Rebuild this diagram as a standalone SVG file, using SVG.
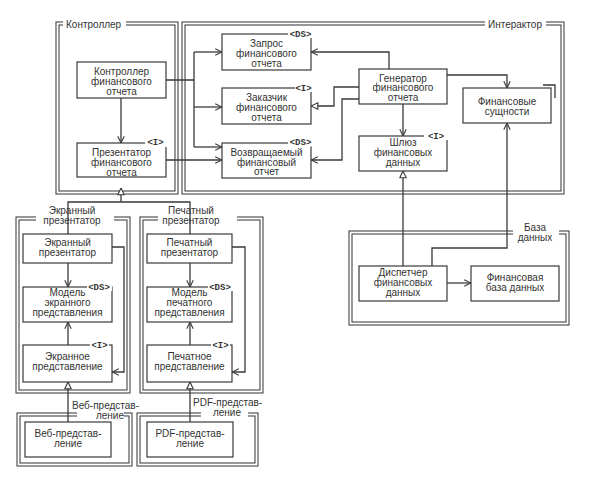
<svg xmlns="http://www.w3.org/2000/svg" width="596" height="480" viewBox="0 0 596 480">
<defs>
<style>
.fr{fill:none;stroke:#444;stroke-width:1.1}
.bx{fill:#fff;stroke:#3a3a3a;stroke-width:1.2}
.t{font-family:"Liberation Sans",Arial,sans-serif;font-size:10px;fill:#333;text-anchor:middle}
.tl{font-family:"Liberation Sans",Arial,sans-serif;font-size:10px;fill:#333}
.st{font-family:"Liberation Mono","DejaVu Sans Mono",monospace;font-size:9px;font-weight:bold;fill:#333;text-anchor:middle}
.w{fill:#fff;stroke:none}
.c{fill:none;stroke:#3a3a3a;stroke-width:1.3}
.ca{fill:none;stroke:#3a3a3a;stroke-width:1.3;marker-end:url(#open)}
.ct{fill:none;stroke:#3a3a3a;stroke-width:1.3;marker-end:url(#tri)}
</style>
<marker id="open" viewBox="0 0 10 10" refX="9.5" refY="5" markerWidth="8" markerHeight="8" markerUnits="userSpaceOnUse" orient="auto">
<path d="M1,1 L9.5,5 L1,9" fill="none" stroke="#3a3a3a" stroke-width="1.4"/>
</marker>
<marker id="tri" viewBox="0 0 10 10" refX="9.5" refY="5" markerWidth="8" markerHeight="8" markerUnits="userSpaceOnUse" orient="auto">
<path d="M1,1 L9.5,5 L1,9 Z" fill="#fff" stroke="#3a3a3a" stroke-width="1.4"/>
</marker>
</defs>
<rect width="596" height="480" fill="#fff"/>

<!-- Frames -->
<g id="frame-controller">
<rect class="fr" x="56" y="22" width="122" height="172"/>
<rect class="fr" x="59" y="25" width="116" height="166"/>
<rect class="w" x="63" y="18" width="63" height="11"/>
<text class="tl" x="66" y="27.5">Контроллер</text>
</g>
<g id="frame-interactor">
<rect class="fr" x="182" y="22" width="382" height="172"/>
<rect class="fr" x="185" y="25" width="376" height="166"/>
<rect class="w" x="485" y="18" width="61" height="11"/>
<text class="tl" x="488" y="28">Интерактор</text>
</g>
<g id="frame-database">
<rect class="fr" x="349" y="231" width="220" height="94"/>
<rect class="fr" x="352" y="234" width="214" height="88"/>
<rect class="w" x="513" y="220" width="46" height="20"/>
<text class="t" x="535" y="230.5">База</text>
<text class="t" x="535" y="241">данных</text>
</g>
<g id="frame-screen">
<rect class="fr" x="16" y="217" width="114" height="176"/>
<rect class="fr" x="19" y="220" width="108" height="170"/>
<rect class="w" x="36" y="204" width="78" height="21"/>
<text class="t" x="72" y="213.5">Экранный</text>
<text class="t" x="72" y="224">презентатор</text>
</g>
<g id="frame-print">
<rect class="fr" x="140" y="217" width="123" height="176"/>
<rect class="fr" x="143" y="220" width="117" height="170"/>
<rect class="w" x="158" y="204" width="79" height="21"/>
<text class="t" x="191" y="213.5">Печатный</text>
<text class="t" x="191" y="224">презентатор</text>
</g>
<g id="frame-web">
<rect class="fr" x="17" y="413" width="115" height="53"/>
<rect class="fr" x="20" y="416" width="109" height="47"/>
<rect class="w" x="77" y="409" width="47" height="12"/>
<text class="tl" x="72" y="408.5">Веб-представ-</text>
<text class="t" x="110" y="419">ление</text>
</g>
<g id="frame-pdf">
<rect class="fr" x="137" y="413" width="121" height="53"/>
<rect class="fr" x="140" y="416" width="115" height="47"/>
<rect class="w" x="201" y="407" width="47" height="12"/>
<text class="tl" x="193" y="405.5">PDF-представ-</text>
<text class="t" x="227" y="416">ление</text>
</g>

<!-- Connectors -->
<g id="connectors">
<path class="ca" d="M121,98 V143"/>
<path class="c" d="M166,80 H194 M194,52 V147"/>
<path class="ca" d="M194,52 H222"/>
<path class="ca" d="M194,107 H222"/>
<path class="ca" d="M194,147 H222"/>
<path class="ca" d="M166,160 H222"/>
<path class="ca" d="M389,69 V52 H311"/>
<path class="ct" d="M359,87 H334 V106 H311"/>
<path class="ca" d="M359,99 H342 V160 H311"/>
<path class="ca" d="M403,104 V136"/>
<path class="ca" d="M447,75 H507 V88"/>
<path class="ct" d="M403,266 V171"/>
<path class="ca" d="M432,266 V248 H507 V123"/>
<path class="ca" d="M447,283 H471" stroke-width="1.8"/>
<path class="c" d="M68,234 V202 H190 V234"/>
<path class="ct" d="M121,202 V188"/>
<path class="ca" d="M68,263 V287"/>
<path class="ca" d="M68,345 V322"/>
<path class="ca" d="M112,247 H124 V372 H112"/>
<path class="ca" d="M190,263 V287"/>
<path class="ca" d="M190,345 V322"/>
<path class="ca" d="M232,247 H245 V372 H232"/>
<path class="ct" d="M68,422 V382"/>
<path class="ct" d="M190,422 V382"/>
</g>

<!-- Nodes -->
<g id="controller">
<rect class="bx" x="77" y="62" width="89" height="36"/>
<text class="t" x="121.5" y="74.5">Контроллер</text>
<text class="t" x="121.5" y="84.5">финансового</text>
<text class="t" x="121.5" y="94.5">отчета</text>
</g>
<g id="presenter">
<rect class="bx" x="77" y="143" width="89" height="34"/>
<rect class="w" x="145" y="137" width="22" height="10"/>
<text class="st" x="155.5" y="145">&lt;I&gt;</text>
<text class="t" x="121.5" y="155.5">Презентатор</text>
<text class="t" x="121.5" y="165.5">финансового</text>
<text class="t" x="121.5" y="175.5">отчета</text>
</g>
<g id="request">
<rect class="bx" x="222" y="34" width="89" height="36"/>
<rect class="w" x="288" y="29" width="25" height="9"/>
<text class="st" x="300.5" y="37">&lt;DS&gt;</text>
<text class="t" x="266.5" y="46.5">Запрос</text>
<text class="t" x="266.5" y="56.5">финансового</text>
<text class="t" x="266.5" y="66.5">отчета</text>
</g>
<g id="requester">
<rect class="bx" x="222" y="88" width="89" height="36"/>
<rect class="w" x="295" y="83" width="18" height="9"/>
<text class="st" x="303.5" y="91">&lt;I&gt;</text>
<text class="t" x="266.5" y="100.5">Заказчик</text>
<text class="t" x="266.5" y="110.5">финансового</text>
<text class="t" x="266.5" y="120.5">отчета</text>
</g>
<g id="response">
<rect class="bx" x="222" y="143" width="89" height="35"/>
<rect class="w" x="288" y="137.5" width="25" height="9"/>
<text class="st" x="300.5" y="144.5">&lt;DS&gt;</text>
<text class="t" x="266.5" y="156">Возвращаемый</text>
<text class="t" x="266.5" y="165.5">финансовый</text>
<text class="t" x="266.5" y="175">отчет</text>
</g>
<g id="generator">
<rect class="bx" x="359" y="69" width="88" height="35"/>
<text class="t" x="403" y="81.5">Генератор</text>
<text class="t" x="403" y="91">финансового</text>
<text class="t" x="403" y="100.5">отчета</text>
</g>
<g id="entities">
<rect class="bx" x="463" y="88" width="88" height="35"/>
<path class="c" d="M543,85 H555 V98" stroke-width="1.1"/>
<text class="t" x="507" y="104.5">Финансовые</text>
<text class="t" x="507" y="114.5">сущности</text>
</g>
<g id="gateway">
<rect class="bx" x="359" y="136" width="88" height="35"/>
<rect class="w" x="424" y="131" width="25" height="9"/>
<text class="st" x="436" y="139">&lt;I&gt;</text>
<text class="t" x="403" y="146">Шлюз</text>
<text class="t" x="403" y="156">финансовых</text>
<text class="t" x="403" y="166">данных</text>
</g>
<g id="dispatcher">
<rect class="bx" x="359" y="266" width="88" height="35"/>
<text class="t" x="403" y="275.5">Диспетчер</text>
<text class="t" x="403" y="285.5">финансовых</text>
<text class="t" x="403" y="295.5">данных</text>
</g>
<g id="database">
<rect class="bx" x="471" y="266" width="88" height="35"/>
<text class="t" x="515" y="280.5">Финансовая</text>
<text class="t" x="515" y="290.5">база данных</text>
</g>
<g id="screen-presenter">
<rect class="bx" x="23" y="234" width="89" height="29"/>
<text class="t" x="67.5" y="245.5">Экранный</text>
<text class="t" x="67.5" y="255.5">презентатор</text>
</g>
<g id="screen-model">
<rect class="bx" x="23" y="287" width="89" height="35"/>
<rect class="w" x="87" y="282" width="25" height="9"/>
<text class="st" x="99" y="290">&lt;DS&gt;</text>
<text class="t" x="67.5" y="296">Модель</text>
<text class="t" x="67.5" y="306">экранного</text>
<text class="t" x="67.5" y="316">представления</text>
</g>
<g id="screen-view">
<rect class="bx" x="23" y="345" width="89" height="37"/>
<rect class="w" x="90" y="340" width="19" height="9"/>
<text class="st" x="99.5" y="348">&lt;I&gt;</text>
<text class="t" x="67.5" y="359.5">Экранное</text>
<text class="t" x="67.5" y="369.5">представление</text>
</g>
<g id="print-presenter">
<rect class="bx" x="147" y="234" width="85" height="29"/>
<text class="t" x="189.5" y="245.5">Печатный</text>
<text class="t" x="189.5" y="255.5">презентатор</text>
</g>
<g id="print-model">
<rect class="bx" x="147" y="287" width="85" height="35"/>
<rect class="w" x="208" y="282" width="25" height="9"/>
<text class="st" x="220" y="290">&lt;DS&gt;</text>
<text class="t" x="189.5" y="296">Модель</text>
<text class="t" x="189.5" y="306">печатного</text>
<text class="t" x="189.5" y="316">представления</text>
</g>
<g id="print-view">
<rect class="bx" x="147" y="345" width="85" height="37"/>
<rect class="w" x="211" y="340" width="19" height="9"/>
<text class="st" x="220.5" y="348">&lt;I&gt;</text>
<text class="t" x="189.5" y="359.5">Печатное</text>
<text class="t" x="189.5" y="369.5">представление</text>
</g>
<g id="web-view">
<rect class="bx" x="25" y="422" width="86" height="35"/>
<text class="t" x="68" y="436.5">Веб-представ-</text>
<text class="t" x="68" y="446.5">ление</text>
</g>
<g id="pdf-view">
<rect class="bx" x="147" y="422" width="86" height="35"/>
<text class="t" x="190" y="436.5">PDF-представ-</text>
<text class="t" x="190" y="446.5">ление</text>
</g>
</svg>
